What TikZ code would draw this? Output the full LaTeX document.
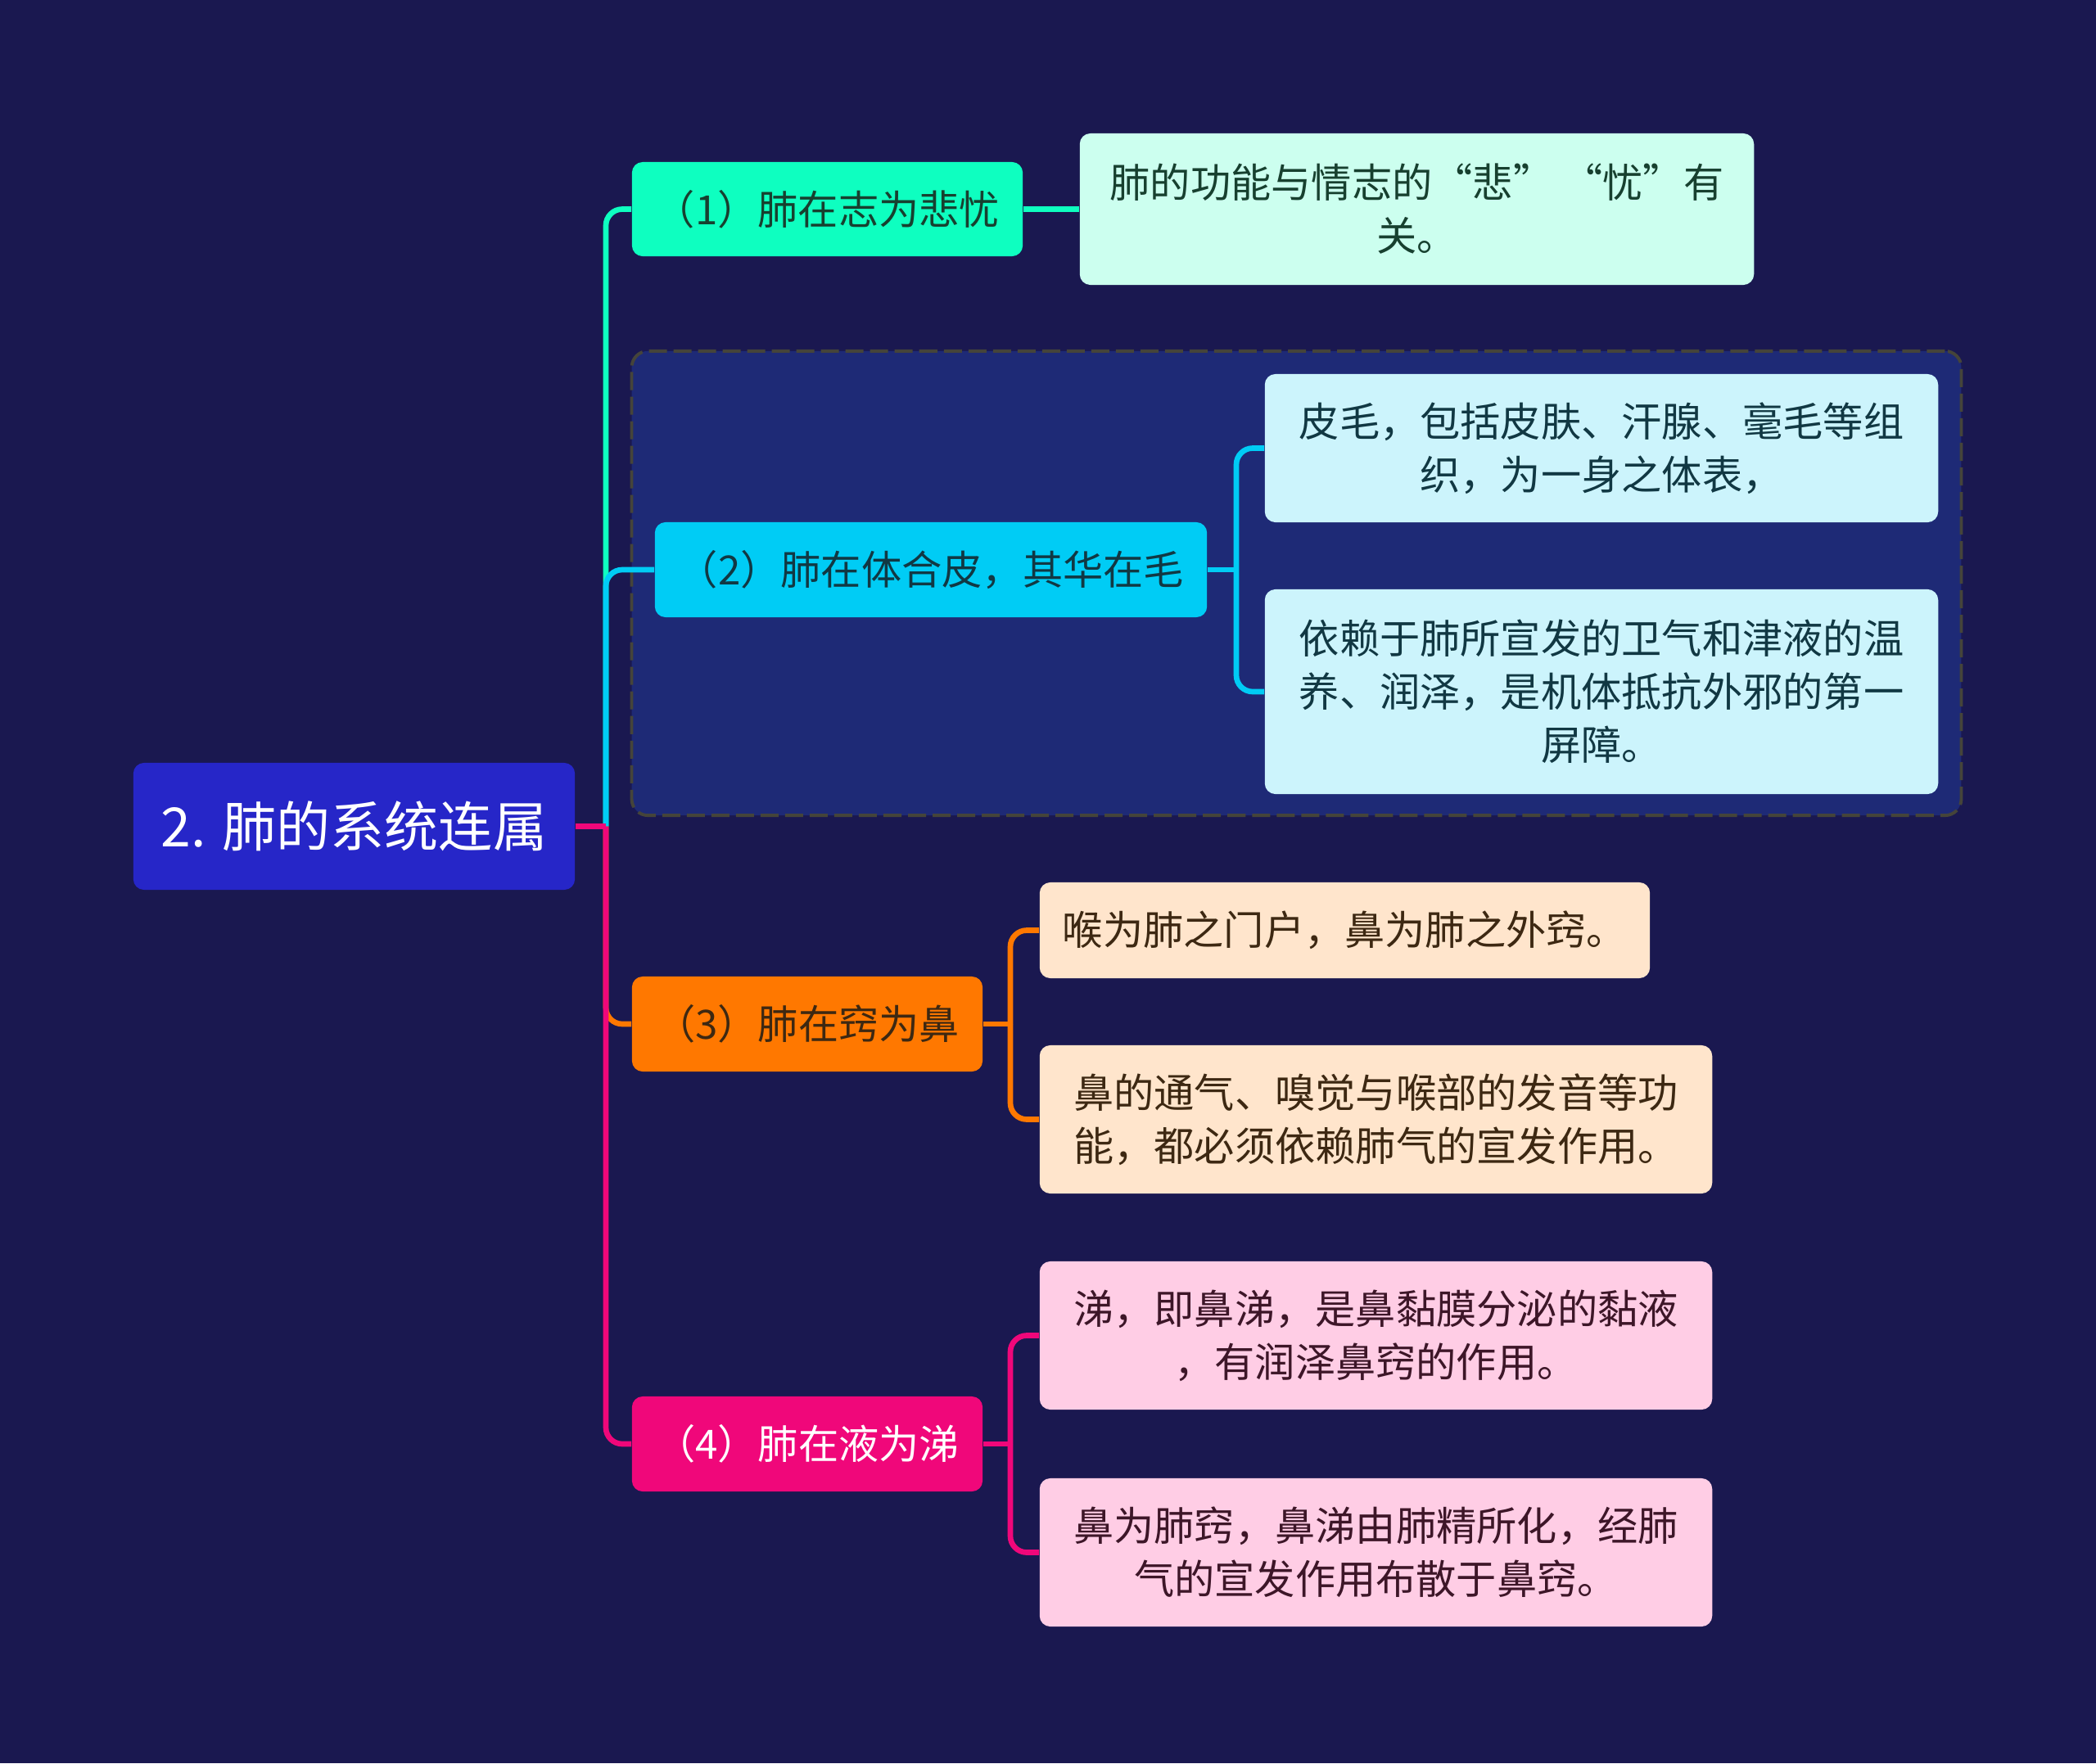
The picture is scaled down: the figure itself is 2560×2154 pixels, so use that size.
\documentclass[tikz,border=0pt]{standalone}
\usepackage{fontspec}
\setmainfont{Noto Sans CJK SC}
\definecolor{bgc}{HTML}{1A1850}
\definecolor{grpc}{HTML}{1E2A76}
\definecolor{grpl}{HTML}{45443A}
\definecolor{rootc}{HTML}{2626C8}
\definecolor{mintc}{HTML}{0EFFC0}
\definecolor{mintl}{HTML}{CCFFEF}
\definecolor{mintt}{HTML}{17402F}
\definecolor{cyanc}{HTML}{00CCF5}
\definecolor{cyanl}{HTML}{CCF4FC}
\definecolor{cyant}{HTML}{113843}
\definecolor{orgc}{HTML}{FF7800}
\definecolor{orgl}{HTML}{FFE5CC}
\definecolor{orgt}{HTML}{3D2812}
\definecolor{pinkc}{HTML}{F0077A}
\definecolor{pinkl}{HTML}{FFCDE5}
\definecolor{pinkt}{HTML}{3D1628}
\begin{document}
\begin{tikzpicture}[
  x=0.01cm,y=-0.01cm,
  every node/.style={font=\fontsize{14pt}{18.5pt}\selectfont},
  box/.style={rounded corners=0.13cm,inner sep=0pt,align=center},
  size/.style 2 args={minimum width=#1cm,minimum height=#2cm},
  link/.style={line width=1.9pt,rounded corners=0.2cm},
  groupbox/.style={draw=grpl,fill=grpc,line width=1.1pt,
    dash pattern=on 0.22cm off 0.08cm,rounded corners=0.2cm}]
  \fill[bgc] (0,0) rectangle (2560,2154);
  \useasboundingbox (0,0) rectangle (2560,2154);

  % the dashed frame round the second branch
  \node[groupbox,size={16.23}{5.67}] (grp) at (1583.5,712.5) {};

  \node[box,fill=rootc,text=white,size={5.39}{1.55},
    font=\fontsize{18.8pt}{22pt}\selectfont] (root) at (432.5,1009.5)
    {2. 肺的系统连属};

  \node[box,fill=mintc,text=mintt,size={4.77}{1.15}] (n1) at (1010.5,255.5)
    {（1）肺在志为悲忧};
  \node[box,fill=cyanc,text=cyant,size={6.74}{1.16}] (n2) at (1137,696)
    {（2）肺在体合皮，其华在毛};
  \node[box,fill=orgc,text=orgt,size={4.28}{1.16}] (n3) at (986,1251)
    {（3）肺在窍为鼻};
  \node[box,fill=pinkc,text=white,size={4.28}{1.16}] (n4) at (986,1764)
    {（4）肺在液为涕};

  \node[box,fill=mintl,text=mintt,size={8.23}{1.85}] (l1) at (1730.5,255.5)
    {肺的功能与情志的“悲” “忧”有\\关。};
  \node[box,fill=cyanl,text=cyant,size={8.22}{1.81}] (l2a) at (1956,547.5)
    {皮毛，包括皮肤、汗腺、毫毛等组\\织，为一身之体表，};
  \node[box,fill=cyanl,text=cyant,size={8.22}{2.50}] (l2b) at (1956,845)
    {依赖于肺所宣发的卫气和津液的温\\养、润泽，是机体抵抗外邪的第一\\屏障。};
  \node[box,fill=orgl,text=orgt,size={7.45}{1.17}] (l3a) at (1642.5,1136.5)
    {喉为肺之门户，鼻为肺之外窍。};
  \node[box,fill=orgl,text=orgt,size={8.21}{1.81}] (l3b) at (1680.5,1367.5)
    {鼻的通气、嗅觉与喉部的发音等功\\能，都必须依赖肺气的宣发作用。};
  \node[box,fill=pinkl,text=pinkt,size={8.21}{1.81}] (l4a) at (1680.5,1631.5)
    {涕，即鼻涕，是鼻黏膜分泌的黏液\\，有润泽鼻窍的作用。};
  \node[box,fill=pinkl,text=pinkt,size={8.21}{1.81}] (l4b) at (1680.5,1896.5)
    {鼻为肺窍，鼻涕由肺精所化，经肺\\气的宣发作用布散于鼻窍。};

  \coordinate (trunk) at (740,1009.5);
  \coordinate (s2) at (1510,696);
  \coordinate (s3) at (1234,1251);
  \coordinate (s4) at (1234,1764);

  % root to the four branches
  \draw[link,mintc] (trunk) |- (n1.west);
  \draw[link,cyanc] (trunk) |- (n2.west);
  \draw[link,orgc] (trunk) |- (n3.west);
  \draw[link,pinkc] (trunk) |- (n4.west);
  \draw[link,pinkc] (root.east) -- (trunk);

  % branches to their notes
  \draw[link,mintc] (n1.east) -- (l1.west);
  \draw[link,cyanc] (n2.east) -- (s2);
  \draw[link,cyanc] (s2) |- (l2a.west);
  \draw[link,cyanc] (s2) |- (l2b.west);
  \draw[link,orgc] (n3.east) -- (s3);
  \draw[link,orgc] (s3) |- (l3a.west);
  \draw[link,orgc] (s3) |- (l3b.west);
  \draw[link,pinkc] (n4.east) -- (s4);
  \draw[link,pinkc] (s4) |- (l4a.west);
  \draw[link,pinkc] (s4) |- (l4b.west);
\end{tikzpicture}
\end{document}
